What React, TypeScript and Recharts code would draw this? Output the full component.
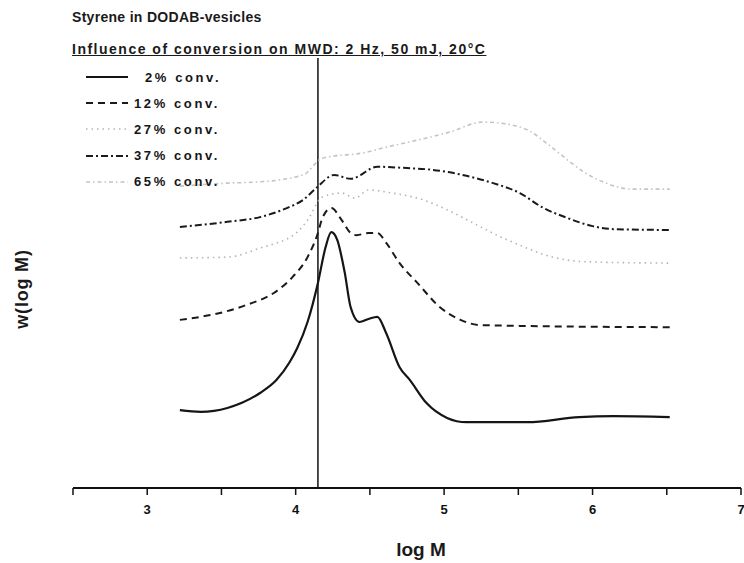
import { ComposedChart, Line, XAxis, YAxis, ReferenceLine } from 'recharts'

// log M, w(log M) pairs (w in arbitrary units 0-100)
const conv2: [number, number][] = [
  [3.22, 18.1], [3.36, 17.7], [3.54, 18.6], [3.76, 22.1], [3.87, 25.1], [3.96, 29.3],
  [4.01, 32.5], [4.08, 38.6], [4.15, 47.7], [4.2, 55.8], [4.24, 59.5], [4.28, 57.7],
  [4.33, 50.2], [4.37, 42.1], [4.43, 38.6], [4.49, 39.3], [4.55, 39.8], [4.61, 36.0],
  [4.7, 28.1], [4.77, 25.1], [4.88, 19.8], [5.02, 16.3], [5.15, 15.3], [5.56, 15.3],
  [5.91, 16.5], [6.14, 16.7], [6.52, 16.5],
]
const conv12: [number, number][] = [
  [3.22, 39.1], [3.36, 39.8], [3.49, 40.7], [3.67, 42.6], [3.85, 45.3], [3.98, 49.1],
  [4.08, 53.7], [4.15, 59.3], [4.18, 62.8], [4.24, 65.1], [4.31, 62.3], [4.37, 59.3],
  [4.41, 58.8], [4.49, 59.3], [4.55, 59.3], [4.61, 57.0], [4.7, 52.3], [4.82, 47.7],
  [4.97, 42.1], [5.11, 39.1], [5.24, 37.9], [5.51, 37.7], [6.52, 37.4],
]
const conv27: [number, number][] = [
  [3.22, 53.5], [3.54, 53.7], [3.76, 55.8], [4.01, 59.5], [4.08, 62.3], [4.18, 67.7],
  [4.31, 68.6], [4.4, 67.4], [4.49, 69.3], [4.65, 68.6], [4.86, 67.0], [5.02, 64.7],
  [5.22, 61.2], [5.38, 58.4], [5.46, 57.2], [5.73, 53.7], [5.96, 52.6], [6.52, 52.3],
]
const conv37: [number, number][] = [
  [3.22, 60.7], [3.54, 61.9], [3.76, 63.0], [3.94, 65.1], [4.05, 67.0], [4.14, 69.8],
  [4.26, 72.8], [4.37, 71.9], [4.55, 74.7], [4.75, 74.4], [4.92, 74.0], [5.15, 72.6],
  [5.33, 70.9], [5.51, 68.6], [5.66, 65.3], [5.83, 62.8], [6.0, 60.9], [6.14, 60.2],
  [6.52, 60.0],
]
const conv65: [number, number][] = [
  [3.22, 70.2], [3.54, 70.9], [3.76, 71.2], [4.05, 72.8], [4.18, 76.7], [4.48, 78.1],
  [4.59, 79.1], [4.82, 80.9], [5.04, 82.8], [5.26, 85.1], [5.46, 84.4], [5.56, 83.3],
  [5.73, 79.1], [5.85, 75.8], [5.95, 73.3], [6.07, 71.2], [6.27, 69.5], [6.52, 69.5],
]

const xTicks = [2.5, 3, 3.5, 4, 4.5, 5, 5.5, 6, 6.5, 7]
const markerLogM = 4.15

const series = [
  { key: 'c2', label: '2% conv.', pad: true, data: conv2, color: '#151515', width: 2.2, dash: undefined },
  { key: 'c12', label: '12% conv.', pad: false, data: conv12, color: '#1a1a1a', width: 2, dash: '7 5' },
  { key: 'c27', label: '27% conv.', pad: false, data: conv27, color: '#b4b4b4', width: 1.6, dash: '1.5 4' },
  { key: 'c37', label: '37% conv.', pad: false, data: conv37, color: '#1a1a1a', width: 2, dash: '7 3 2 3' },
  { key: 'c65', label: '65% conv.', pad: false, data: conv65, color: '#c4c4c4', width: 1.6, dash: '4 3 1.5 3' },
]

const font = "'Liberation Sans', Arial, sans-serif"

function XTick(props: any) {
  const { x, y, payload } = props
  if (!Number.isInteger(payload.value)) return null
  return (
    <text x={x} y={y + 17} textAnchor="middle" fontSize={13} fontWeight={700} fill="#111" fontFamily={font}>
      {payload.value}
    </text>
  )
}

function LegendBox() {
  return (
    <div style={{ fontFamily: font, fontSize: 13, fontWeight: 700, color: '#151515', letterSpacing: 2.6 }}>
      {series.map((s) => (
        <div key={s.key} style={{ display: 'flex', alignItems: 'center', height: 26.2 }}>
          <svg width={46} height={8}>
            <line x1={2} y1={4} x2={44} y2={4} stroke={s.color} strokeWidth={s.width} strokeDasharray={s.dash} />
          </svg>
          <span style={{ marginLeft: s.pad ? 15 : 4 }}>{s.label}</span>
        </div>
      ))}
    </div>
  )
}

export default function App() {
  return (
    <div style={{ position: 'absolute', left: 0, top: 0, width: 744, height: 563, background: '#fff', fontFamily: font }}>
      <div style={{ position: 'absolute', left: 72, top: 9, fontSize: 14, fontWeight: 700, color: '#1a1a1a', letterSpacing: 0.3 }}>
        Styrene in DODAB-vesicles
      </div>
      <div
        style={{
          position: 'absolute', left: 72, top: 41, fontSize: 14, fontWeight: 700, color: '#1a1a1a',
          letterSpacing: 1.5, textDecoration: 'underline',
        }}
      >
        Influence of conversion on MWD: 2 Hz, 50 mJ, 20°C
      </div>
      <div
        style={{
          position: 'absolute', left: 22, top: 289, transform: 'translate(-50%, -50%) rotate(-90deg)',
          fontSize: 18, fontWeight: 700, color: '#1a1a1a', whiteSpace: 'nowrap', letterSpacing: 0.8,
        }}
      >
        w(log M)
      </div>
      <div style={{ position: 'absolute', left: 421, top: 539, transform: 'translateX(-50%)', fontSize: 19, fontWeight: 700, color: '#1a1a1a' }}>
        log M
      </div>
      <div style={{ position: 'absolute', left: 84, top: 64, zIndex: 2 }}>
        <LegendBox />
      </div>
      <ComposedChart width={744} height={563} margin={{ top: 58, right: 3, bottom: 45, left: 73 }}>
        <XAxis
          type="number"
          dataKey="x"
          domain={[2.5, 7]}
          ticks={xTicks}
          interval={0}
          height={30}
          tick={<XTick />}
          tickSize={7}
          tickLine={{ stroke: '#111', strokeWidth: 1.5 }}
          axisLine={{ stroke: '#111', strokeWidth: 2 }}
          allowDataOverflow
        />
        <YAxis type="number" domain={[0, 100]} width={0} tick={false} tickLine={false} axisLine={{ stroke: '#111', strokeWidth: 2 }} />
        <ReferenceLine x={markerLogM} stroke="#111" strokeWidth={1.5} />
        {series.map((s) => (
          <Line
            key={s.key}
            data={s.data.map(([x, y]) => ({ x, y }))}
            dataKey="y"
            type="monotone"
            stroke={s.color}
            strokeWidth={s.width}
            strokeDasharray={s.dash}
            dot={false}
            activeDot={false}
            isAnimationActive={false}
          />
        ))}
      </ComposedChart>
    </div>
  )
}
